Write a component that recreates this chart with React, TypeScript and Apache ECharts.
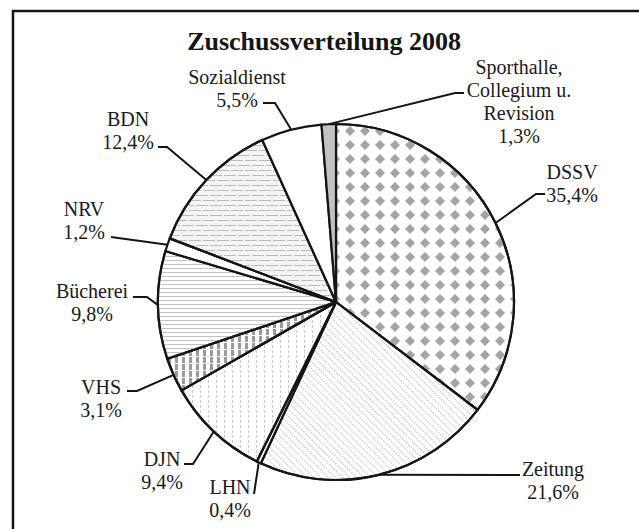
import React, { useEffect, useRef } from "react";
import * as echarts from "echarts";

// Slices in clockwise order starting at 12 o'clock
const names = [
  "DSSV",
  "Zeitung",
  "LHN",
  "DJN",
  "VHS",
  "Bücherei",
  "NRV",
  "BDN",
  "Sozialdienst",
  "Sporthalle,\nCollegium u.\nRevision",
];
const values = [35.4, 21.6, 0.4, 9.4, 3.1, 9.8, 1.2, 12.4, 5.5, 1.3];
const titleText = "Zuschussverteilung 2008";

// Label layout (block centre) and leader-line bend/end points, by slice index
const LABEL_LAYOUT: { x: number; y: number; line: number[][] }[] = [
  { x: 572, y: 183, line: [[536, 194], [545, 194]] },
  { x: 553, y: 480, line: [[520, 475]] },
  { x: 230, y: 498, line: [[254, 494]] },
  { x: 162, y: 470, line: [[193, 464], [184, 464]] },
  { x: 101, y: 398, line: [[137, 391], [127, 391]] },
  { x: 92, y: 302, line: [[147, 297], [133, 297]] },
  { x: 84, y: 220, line: [[111, 237]] },
  { x: 128, y: 130, line: [[167, 147], [158, 147]] },
  { x: 237, y: 88, line: [[275, 103], [263, 103]] },
  { x: 519, y: 101, line: [[455, 93], [464, 93]] },
];

const FILL: any[] = [
  {
    color: "#ffffff",
    decal: {
      symbol: "diamond",
      symbolSize: 1,
      color: "#a4a4a4",
      dashArrayX: [10, 5],
      dashArrayY: [10, 4],
    },
  },
  {
    color: "#ffffff",
    decal: {
      symbol: "rect",
      color: "#c6c6c6",
      dashArrayX: [2, 1],
      dashArrayY: [1, 4],
      rotation: Math.PI / 4,
    },
  },
  { color: "#ffffff" },
  {
    color: "#ffffff",
    decal: {
      symbol: "rect",
      color: "#c8c8c8",
      dashArrayX: [1, 7],
      dashArrayY: [3, 2],
    },
  },
  {
    color: "#ffffff",
    decal: {
      symbol: "rect",
      color: "#9a9a9a",
      dashArrayX: [3, 4],
      dashArrayY: [6, 1],
    },
  },
  {
    color: "#ffffff",
    decal: {
      symbol: "rect",
      color: "#c4c4c4",
      dashArrayX: [10, 0],
      dashArrayY: [1, 3],
    },
  },
  { color: "#ffffff" },
  {
    color: "#f4f4f4",
    decal: {
      symbol: "rect",
      color: "#bcbcbc",
      dashArrayX: [[12, 2], [5, 2, 7, 0]],
      dashArrayY: [1, 4],
    },
  },
  { color: "#ffffff" },
  { color: "#c2c2c2" },
];

export default function App() {
  const ref = useRef<HTMLDivElement>(null);
  useEffect(() => {
    if (!ref.current) return;
    const chart = echarts.init(ref.current, null, { renderer: "svg" });
    const data = names.map((n, i) => ({
      name: n,
      value: values[i],
      itemStyle: FILL[i],
    }));
    chart.setOption({
      animation: false,
      backgroundColor: "#ffffff",
      graphic: [
        {
          type: "rect",
          shape: { x: 13, y: 11, width: 700, height: 600 },
          style: { fill: "none", stroke: "#151515", lineWidth: 2.5 },
          z: 0,
        },
        {
          type: "text",
          x: 324,
          y: 41,
          style: {
            text: titleText,
            font: "bold 26px 'Liberation Serif'",
            fill: "#151515",
            align: "center",
            verticalAlign: "middle",
          },
        },
      ],
      series: [
        {
          type: "pie",
          center: [336, 302],
          radius: [0, 178],
          startAngle: 90,
          clockwise: true,
          avoidLabelOverlap: false,
          data,
          itemStyle: { borderColor: "#151515", borderWidth: 2.2 },
          emphasis: { disabled: true },
          label: {
            show: true,
            position: "outside",
            fontFamily: "'Liberation Serif'",
            fontSize: 20,
            lineHeight: 23,
            color: "#1a1a1a",
            align: "center",
            formatter: (p: any) =>
              `${p.name}\n${Number(p.value).toFixed(1).replace(".", ",")}%`,
          },
          labelLine: {
            show: true,
            length: 10,
            length2: 10,
            smooth: false,
            lineStyle: { color: "#151515", width: 2 },
          },
          labelLayout: (params: any) => {
            const L = LABEL_LAYOUT[params.dataIndex];
            const start =
              params.labelLinePoints && params.labelLinePoints[0]
                ? params.labelLinePoints[0]
                : [336, 302];
            return {
              x: L.x,
              y: L.y,
              align: "center",
              verticalAlign: "middle",
              labelLinePoints: [start, ...L.line],
            };
          },
        },
      ],
    });
    return () => chart.dispose();
  }, []);
  return (
    <div
      ref={ref}
      style={{ position: "fixed", left: 0, top: 0, width: 639, height: 529 }}
    />
  );
}
